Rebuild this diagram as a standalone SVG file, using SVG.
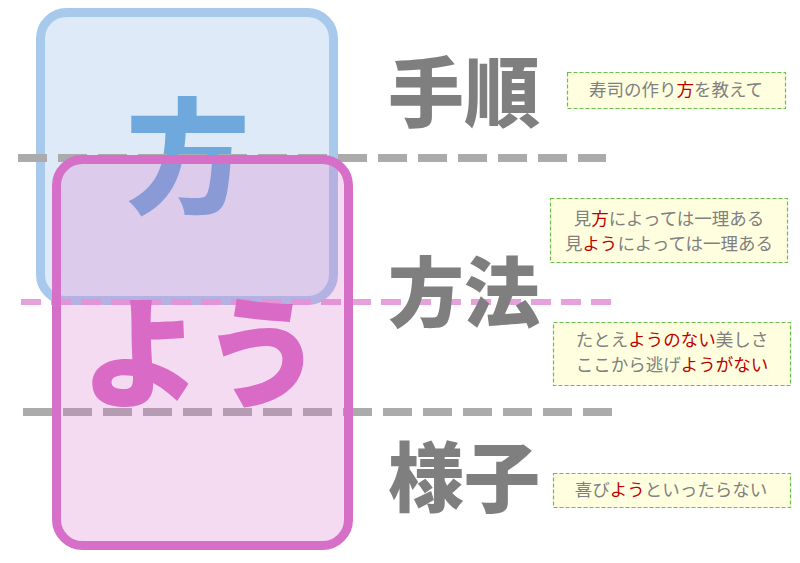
<svg xmlns="http://www.w3.org/2000/svg" width="800" height="563" viewBox="0 0 800 563">
<style>
.big{font-family:"Noto Sans CJK JP","Noto Sans CJK SC",sans-serif;font-weight:900;text-anchor:middle}
.hdr{font-family:"Noto Sans CJK JP","Noto Sans CJK SC",sans-serif;font-weight:900;font-size:76px;fill:#7f7f7f;text-anchor:middle}
.note rect{fill:#ffffe0;stroke:#6cbf4a;stroke-width:1.2;stroke-dasharray:4 2}
.note text{font-family:"Noto Sans CJK JP","Noto Sans CJK SC",sans-serif;font-size:17.5px;fill:#808080;text-anchor:middle}
.r{fill:#c00000}
.gl{stroke:#ababab;stroke-width:8;stroke-dasharray:29 11;fill:none}
</style>
<rect width="800" height="563" fill="#ffffff"/>
<g id="hou-box">
<rect x="40.5" y="12.5" width="293" height="288" rx="26" fill="#deeaf7" stroke="#a7c9ec" stroke-width="9"/>
<text class="big" x="188" y="203" font-size="124" fill="#6fa8dc">方</text>
</g>
<g id="connectors">
<line class="gl" x1="18" y1="158" x2="606" y2="158"/>
<line class="gl" x1="23" y1="412" x2="612" y2="412"/>
<line x1="21" y1="302" x2="612" y2="302" stroke="#e6a0dc" stroke-width="6" stroke-dasharray="20 10"/>
</g>
<g id="you-box">
<rect x="56.5" y="159.5" width="292" height="386" rx="26" fill="#d66fc8" fill-opacity="0.25" stroke="#d66fc8" stroke-width="9"/>
<text class="big" x="202" y="398" font-size="121" fill="#d96bc7">よう</text>
</g>
<g id="hdr-tejun"><text class="hdr" x="464" y="121">手順</text></g>
<g id="hdr-houhou"><text class="hdr" x="464" y="321">方法</text></g>
<g id="hdr-yousu"><text class="hdr" x="464" y="506">様子</text></g>
<g id="note1" class="note">
<rect x="567.5" y="72.5" width="218" height="36"/>
<text x="676" y="96">寿司の作り<tspan class="r">方</tspan>を教えて</text>
</g>
<g id="note2" class="note">
<rect x="550.5" y="198.5" width="237" height="64"/>
<text x="669" y="225">見<tspan class="r">方</tspan>によっては一理ある</text>
<text x="669" y="250">見<tspan class="r">よう</tspan>によっては一理ある</text>
</g>
<g id="note3" class="note">
<rect x="553.5" y="322.5" width="237" height="63"/>
<text x="672" y="346">たとえ<tspan class="r">ようのない</tspan>美しさ</text>
<text x="672" y="371">ここから逃げ<tspan class="r">ようがない</tspan></text>
</g>
<g id="note4" class="note">
<rect x="553.5" y="473.5" width="237" height="34"/>
<text x="671" y="496">喜び<tspan class="r">よう</tspan>といったらない</text>
</g>
</svg>
